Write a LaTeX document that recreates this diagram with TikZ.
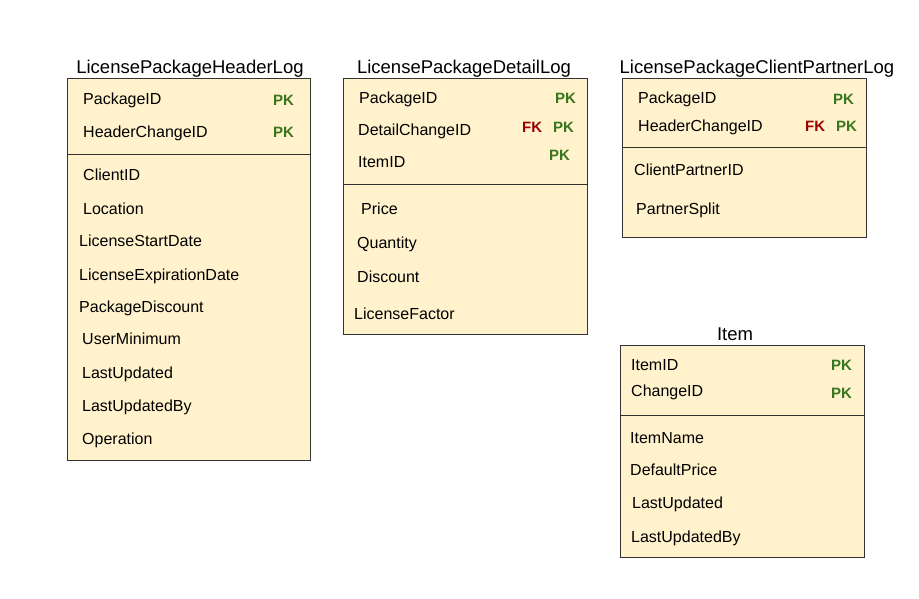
\documentclass[tikz,border=0pt]{standalone}
\usepackage{fontspec}
\setmainfont{Liberation Sans}
\definecolor{tblfill}{HTML}{FFF2CC}
\definecolor{tblline}{HTML}{333333}
\definecolor{pkgreen}{HTML}{38761D}
\definecolor{fkred}{HTML}{990000}
\begin{document}
\begin{tikzpicture}[x=1pt,y=-1pt,
  tbl/.style={draw=tblline, fill=tblfill, line width=0.8pt, anchor=north west, inner sep=0pt},
  ttl/.style={font=\fontsize{18.5}{22}\selectfont, text height=13.2pt, text depth=0pt, inner sep=0pt, anchor=center},
  fld/.style={font=\fontsize{16}{19}\selectfont, text height=11.4pt, text depth=0pt, inner sep=0pt, anchor=west},
  pk/.style={fld, font=\fontsize{15}{18}\selectfont\bfseries, text height=10.7pt, text=pkgreen},
  fk/.style={fld, font=\fontsize{15}{18}\selectfont\bfseries, text height=10.7pt, text=fkred},
  divider/.style={draw=tblline, line width=0.8pt}]
\useasboundingbox (0,0) rectangle (919,599);
\fill[white] (0,0) rectangle (919,599);

% Box 1
\node[tbl, minimum width=243pt, minimum height=382pt] (b1) at (67,78) {};
\node[ttl] (t1) at (190,67) {LicensePackageHeaderLog};
\coordinate (d1) at (0,154);
\draw[divider] (b1.west |- d1) -- (b1.east |- d1);
\node[fld] (b1f1) at (83,99) {PackageID};
\node[fld] (b1f2) at (83,132) {HeaderChangeID};
\node[pk] (b1k1) at (273,100) {PK};
\node[pk] (b1k2) at (273,132) {PK};
\node[fld] (b1f3) at (83,175) {ClientID};
\node[fld] (b1f4) at (83,209) {Location};
\node[fld] (b1f5) at (79,241) {LicenseStartDate};
\node[fld] (b1f6) at (79,275) {LicenseExpirationDate};
\node[fld] (b1f7) at (79,307) {PackageDiscount};
\node[fld] (b1f8) at (82,339) {UserMinimum};
\node[fld] (b1f9) at (82,373) {LastUpdated};
\node[fld] (b1f10) at (82,406) {LastUpdatedBy};
\node[fld] (b1f11) at (82,439) {Operation};

% Box 2
\node[tbl, minimum width=244pt, minimum height=256pt] (b2) at (343,78) {};
\node[ttl] (t2) at (464,67) {LicensePackageDetailLog};
\coordinate (d2) at (0,184);
\draw[divider] (b2.west |- d2) -- (b2.east |- d2);
\node[fld] (b2f1) at (359,98) {PackageID};
\node[fld] (b2f2) at (358,130) {DetailChangeID};
\node[fld] (b2f3) at (358,162) {ItemID};
\node[pk] (b2k1) at (555,98) {PK};
\node[fk] (b2j2) at (522,127) {FK};
\node[pk] (b2k2) at (553,127) {PK};
\node[pk] (b2k3) at (549,155) {PK};
\node[fld] (b2f4) at (361,209) {Price};
\node[fld] (b2f5) at (357,243) {Quantity};
\node[fld] (b2f6) at (357,277) {Discount};
\node[fld] (b2f7) at (354,314) {LicenseFactor};

% Box 3
\node[tbl, minimum width=244pt, minimum height=159pt] (b3) at (622,78) {};
\node[ttl] (t3) at (757,67) {LicensePackageClientPartnerLog};
\coordinate (d3) at (0,147);
\draw[divider] (b3.west |- d3) -- (b3.east |- d3);
\node[fld] (b3f1) at (638,98) {PackageID};
\node[fld] (b3f2) at (638,126) {HeaderChangeID};
\node[pk] (b3k1) at (833,99) {PK};
\node[fk] (b3j2) at (805,126) {FK};
\node[pk] (b3k2) at (836,126) {PK};
\node[fld] (b3f3) at (634,170) {ClientPartnerID};
\node[fld] (b3f4) at (636,209) {PartnerSplit};

% Box 4
\node[tbl, minimum width=244pt, minimum height=212pt] (b4) at (620,345) {};
\node[ttl] (t4) at (735,334) {Item};
\coordinate (d4) at (0,415);
\draw[divider] (b4.west |- d4) -- (b4.east |- d4);
\node[fld] (b4f1) at (631,365) {ItemID};
\node[fld] (b4f2) at (631,391) {ChangeID};
\node[pk] (b4k1) at (831,365) {PK};
\node[pk] (b4k2) at (831,393) {PK};
\node[fld] (b4f3) at (630,438) {ItemName};
\node[fld] (b4f4) at (630,470) {DefaultPrice};
\node[fld] (b4f5) at (632,503) {LastUpdated};
\node[fld] (b4f6) at (631,537) {LastUpdatedBy};
\end{tikzpicture}
\end{document}
